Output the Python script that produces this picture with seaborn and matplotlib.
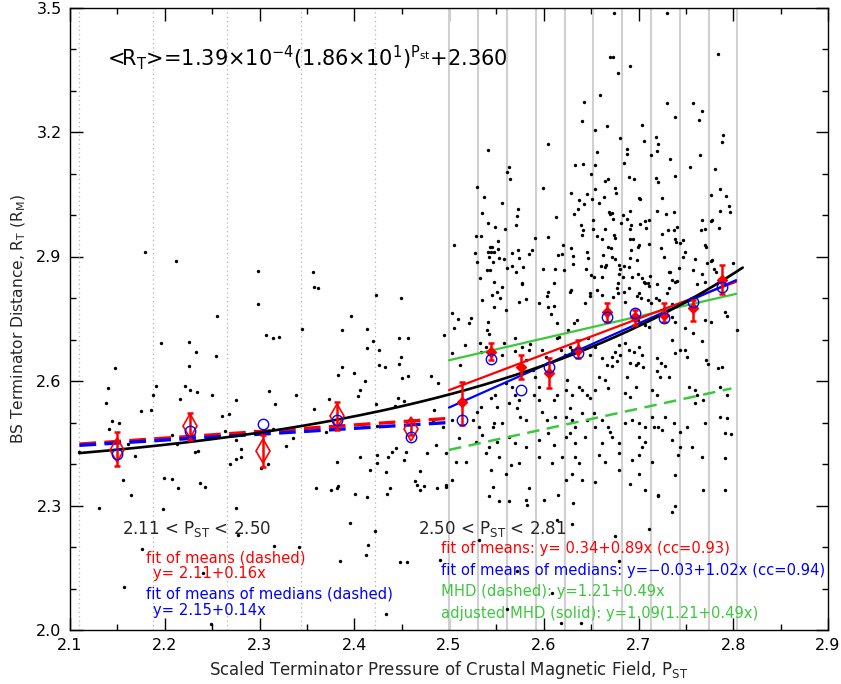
import numpy as np
import pandas as pd
import matplotlib
matplotlib.use("Agg")
import matplotlib.pyplot as plt
import seaborn as sns
from matplotlib.ticker import MultipleLocator, FormatStrFormatter

# ---------------- data ----------------
left_dots = [
    (2.212,2.888),(2.179,2.912),(2.298,2.865),(2.356,2.862),(2.358,2.827),(2.362,2.824),(2.423,2.807),
    (2.449,2.799),(2.298,2.785),(2.255,2.757),(2.397,2.757),(2.345,2.726),(2.387,2.724),(2.413,2.725),
    (2.447,2.703),(2.457,2.703),(2.307,2.712),(2.314,2.704),(2.321,2.706),(2.196,2.692),(2.226,2.693),
    (2.233,2.671),(2.420,2.696),(2.413,2.680),(2.426,2.674),(2.254,2.660),(2.449,2.658),(2.226,2.636),
    (2.426,2.638),(2.432,2.633),(2.447,2.640),(2.387,2.633),(2.383,2.615),(2.400,2.619),(2.450,2.608),
    (2.457,2.611),(2.481,2.611),(2.148,2.632),(2.140,2.584),(2.191,2.588),(2.221,2.588),(2.227,2.578),
    (2.234,2.573),(2.250,2.566),(2.188,2.566),(2.216,2.556),(2.275,2.554),(2.310,2.577),(2.316,2.545),
    (2.339,2.567),(2.406,2.578),(2.404,2.565),(2.411,2.601),(2.373,2.557),(2.423,2.545),(2.446,2.558),
    (2.452,2.553),(2.443,2.540),(2.488,2.596),(2.484,2.530),(2.138,2.546),(2.175,2.528),(2.186,2.529),
    (2.260,2.516),(2.268,2.521),(2.357,2.533),(2.144,2.504),(2.152,2.500),(2.141,2.484),(2.264,2.480),
    (2.295,2.479),(2.314,2.485),(2.483,2.504),(2.494,2.488),(2.424,2.491),(2.370,2.476),(2.208,2.469),
    (2.213,2.449),(2.161,2.449),(2.275,2.457),(2.335,2.463),(2.328,2.443),(2.280,2.436),(2.232,2.430),
    (2.235,2.431),(2.486,2.445),(2.477,2.426),(2.497,2.427),(2.169,2.419),(2.110,2.430),(2.280,2.416),
    (2.275,2.411),(2.269,2.400),(2.309,2.401),(2.302,2.391),(2.382,2.404),(2.406,2.418),(2.424,2.422),
    (2.424,2.402),(2.436,2.417),(2.440,2.430),(2.444,2.438),(2.452,2.409),(2.455,2.428),(2.417,2.386),
    (2.433,2.380),(2.469,2.382),(2.464,2.358),(2.466,2.350),(2.469,2.338),(2.474,2.348),(2.487,2.341),
    (2.497,2.344),(2.156,2.361),(2.164,2.325),(2.199,2.367),(2.208,2.364),(2.214,2.341),(2.237,2.354),
    (2.242,2.344),(2.360,2.341),(2.375,2.337),(2.382,2.342),(2.383,2.347),(2.401,2.327),(2.413,2.321),
    (2.435,2.328),(2.438,2.341),(2.131,2.293),(2.198,2.292),(2.275,2.295),(2.395,2.259),(2.422,2.239),
    (2.277,2.228),(2.415,2.205),(2.412,2.181),(2.176,2.194),(2.315,2.203),(2.342,2.201),(2.385,2.167),
    (2.448,2.163),(2.456,2.163),(2.490,2.169),(2.157,2.104),(2.240,2.137),(2.434,2.038),(2.249,2.014),
]

right_dots_top = [
    (2.674,3.487),(2.730,3.487),(2.670,3.381),(2.673,3.380),(2.691,3.360),(2.678,3.341),(2.784,3.387),
    (2.659,3.289),(2.643,3.273),(2.730,3.269),(2.758,3.271),(2.767,3.251),(2.738,3.237),(2.764,3.230),
    (2.640,3.226),(2.654,3.206),(2.667,3.214),(2.704,3.218),(2.681,3.186),(2.706,3.178),(2.718,3.188),
    (2.721,3.172),(2.789,3.192),(2.788,3.177),(2.605,3.170),
    (2.541,3.156),(2.688,3.159),(2.688,3.147),(2.713,3.144),(2.720,3.154),(2.656,3.151),(2.765,3.145),
    (2.733,3.134),(2.685,3.126),(2.633,3.120),(2.641,3.124),(2.654,3.120),(2.563,3.115),(2.561,3.104),
    (2.564,3.086),(2.754,3.115),(2.781,3.110),(2.650,3.100),(2.690,3.091),(2.695,3.086),(2.738,3.095),
    (2.665,3.083),(2.668,3.086),(2.718,3.088),(2.721,3.080),(2.530,3.067),(2.537,3.043),(2.535,3.005),
    (2.541,2.980),(2.599,3.066),(2.675,3.064),(2.676,3.053),(2.629,3.053),(2.646,3.050),(2.654,3.063),
    (2.786,3.063),(2.700,3.042),(2.702,3.039),(2.725,3.042),(2.777,3.047),(2.792,3.045),(2.637,3.037),
    (2.642,3.027),(2.651,3.038),(2.658,3.029),(2.664,3.043),(2.556,3.029),(2.796,3.022),(2.797,3.008),
    (2.786,3.010),(2.573,3.014),(2.572,2.997),(2.571,2.976),(2.636,3.014),(2.632,3.003),(2.669,3.007),
    (2.672,3.005),(2.670,3.002),(2.673,2.991),(2.684,3.001),(2.691,3.010),(2.688,2.991),(2.719,3.009),
    (2.729,3.002),(2.737,3.008),(2.613,2.994),(2.707,2.985),(2.711,2.988),(2.702,2.978),(2.682,2.980),
    (2.692,2.975),(2.691,2.967),(2.652,2.988),(2.639,2.976),(2.641,2.964),(2.640,2.951),(2.549,2.970),
    (2.559,2.967),(2.665,2.966),(2.708,2.969),(2.731,2.965),(2.737,2.964),(2.741,2.972),(2.767,2.989),
    (2.776,2.985),(2.778,2.987),(2.766,2.965),(2.770,2.966),(2.785,2.969),(2.674,2.953),(2.675,2.945),
    (2.656,2.949),(2.652,2.966),(2.725,2.954),(2.591,2.945),(2.605,2.946),(2.529,2.949),(2.534,2.949),
    (2.505,2.927),(2.662,2.942),(2.691,2.941),(2.694,2.941),(2.739,2.941),(2.740,2.936),(2.747,2.940),
    (2.744,2.933),(2.770,2.928),(2.771,2.924),(2.711,2.929),(2.552,2.937),(2.552,2.918),(2.543,2.923),
    (2.545,2.923),(2.541,2.912),(2.544,2.911),(2.547,2.912),(2.527,2.908),(2.530,2.887),(2.542,2.898),
    (2.546,2.886),(2.553,2.896),(2.558,2.895),(2.566,2.908),(2.573,2.915),(2.574,2.897),(2.567,2.878),
    (2.571,2.862),(2.578,2.875),(2.584,2.905),(2.588,2.916),(2.615,2.904),(2.619,2.905),(2.620,2.928),
    (2.629,2.920),(2.631,2.902),(2.631,2.883),(2.646,2.910),(2.647,2.896),(2.645,2.871),(2.668,2.923),
    (2.671,2.920),(2.663,2.903),(2.672,2.898),(2.675,2.893),(2.692,2.916),(2.691,2.896),(2.698,2.892),
    (2.699,2.924),(2.700,2.927),(2.724,2.920),(2.727,2.899),(2.749,2.912),(2.747,2.900),(2.760,2.895),
    (2.777,2.888),(2.778,2.891),(2.540,2.867),(2.543,2.867),(2.533,2.848),(2.547,2.839),(2.561,2.872),
    (2.577,2.835),(2.599,2.871),(2.612,2.869),(2.611,2.835),(2.621,2.867),(2.660,2.877),(2.665,2.875),
    (2.666,2.880),(2.653,2.851),(2.650,2.856),(2.661,2.850),(2.679,2.879),(2.680,2.871),(2.685,2.876),
    (2.690,2.875),(2.679,2.859),(2.684,2.851),(2.678,2.835),(2.693,2.851),(2.699,2.857),(2.704,2.849),
    (2.706,2.838),(2.710,2.835),(2.712,2.852),(2.732,2.862),(2.733,2.862),(2.735,2.843),(2.741,2.842),
    (2.743,2.873),(2.758,2.867),(2.767,2.857),(2.772,2.884),(2.770,2.838),(2.780,2.869),(2.782,2.862),
    (2.800,2.884),(2.762,2.834),(2.719,2.834),
]

right_dots_mid = [
    (2.535,2.795),(2.551,2.815),(2.554,2.799),(2.545,2.807),(2.556,2.826),(2.577,2.834),(2.574,2.790),
    (2.581,2.798),(2.560,2.770),(2.547,2.779),(2.595,2.787),(2.603,2.806),(2.604,2.814),(2.605,2.779),
    (2.611,2.781),(2.608,2.761),(2.614,2.739),(2.628,2.815),(2.629,2.819),(2.632,2.740),(2.635,2.747),
    (2.644,2.789),(2.649,2.811),(2.649,2.805),(2.656,2.819),(2.661,2.807),(2.677,2.823),(2.678,2.811),
    (2.673,2.802),(2.685,2.815),(2.686,2.791),(2.690,2.823),(2.698,2.805),(2.700,2.811),(2.703,2.799),
    (2.707,2.835),(2.711,2.829),(2.710,2.795),(2.713,2.789),(2.718,2.799),(2.722,2.794),(2.730,2.811),
    (2.732,2.823),(2.739,2.839),(2.735,2.786),(2.699,2.747),(2.702,2.739),(2.707,2.735),(2.711,2.731),
    (2.735,2.755),(2.739,2.743),(2.749,2.727),(2.758,2.715),(2.767,2.696),(2.770,2.747),(2.776,2.741),
    (2.791,2.767),(2.793,2.757),(2.804,2.724),(2.503,2.765),(2.510,2.749),(2.523,2.751),(2.521,2.739),
    (2.505,2.727),(2.495,2.711),(2.541,2.743),(2.542,2.713),(2.540,2.724),(2.517,2.687),(2.503,2.667),
    (2.512,2.639),(2.533,2.691),(2.539,2.683),(2.534,2.671),(2.558,2.691),(2.556,2.663),(2.570,2.703),
    (2.570,2.673),(2.577,2.683),(2.586,2.689),(2.584,2.675),(2.581,2.651),(2.589,2.627),(2.598,2.675),
    (2.602,2.659),(2.614,2.703),(2.616,2.707),(2.626,2.723),(2.618,2.675),(2.622,2.663),(2.628,2.683),
    (2.630,2.675),(2.647,2.703),(2.654,2.683),(2.649,2.663),(2.661,2.655),(2.672,2.659),(2.667,2.639),
    (2.672,2.636),(2.677,2.647),(2.675,2.671),(2.679,2.687),(2.686,2.691),(2.681,2.663),(2.690,2.675),
    (2.695,2.671),(2.700,2.683),(2.704,2.663),(2.691,2.643),(2.697,2.639),(2.699,2.643),(2.705,2.633),
    (2.719,2.655),(2.724,2.643),(2.728,2.635),(2.732,2.610),(2.735,2.699),(2.739,2.667),(2.744,2.675),
    (2.749,2.675),(2.751,2.659),(2.771,2.651),(2.773,2.641),(2.784,2.631),(2.788,2.633),(2.786,2.586),
    (2.793,2.566),(2.753,2.586),(2.760,2.578),(2.762,2.566),(2.768,2.554),(2.760,2.546),(2.719,2.623),
    (2.723,2.610),(2.714,2.578),(2.719,2.566),(2.688,2.610),(2.697,2.586),(2.686,2.570),(2.691,2.562),
    (2.658,2.610),(2.665,2.602),(2.654,2.578),(2.668,2.582),(2.637,2.586),(2.640,2.578),(2.646,2.566),
    (2.649,2.558),(2.623,2.578),(2.625,2.602),(2.630,2.566),(2.628,2.534),(2.591,2.610),(2.595,2.586),
    (2.590,2.566),(2.595,2.554),(2.614,2.566),(2.611,2.554),(2.560,2.594),(2.567,2.586),(2.570,2.566),
    (2.574,2.554),(2.563,2.546),(2.549,2.566),(2.544,2.558),(2.551,2.538),(2.534,2.538),(2.530,2.526),
]

right_dots_low = [
    (2.503,2.506),(2.525,2.506),(2.532,2.490),(2.535,2.470),(2.546,2.490),(2.547,2.498),(2.556,2.498),
    (2.572,2.534),(2.575,2.514),(2.581,2.506),(2.598,2.526),(2.603,2.506),(2.612,2.514),(2.623,2.514),
    (2.630,2.506),(2.633,2.490),(2.640,2.522),(2.646,2.506),(2.653,2.522),(2.661,2.506),(2.668,2.490),
    (2.670,2.478),(2.672,2.466),(2.679,2.450),(2.686,2.498),(2.693,2.506),(2.700,2.498),(2.707,2.490),
    (2.714,2.514),(2.721,2.490),(2.716,2.490),(2.725,2.482),(2.728,2.514),(2.737,2.498),(2.744,2.478),
    (2.751,2.490),(2.770,2.498),(2.786,2.514),(2.793,2.510),(2.791,2.474),(2.798,2.472),(2.511,2.462),
    (2.528,2.454),(2.542,2.442),(2.551,2.454),(2.563,2.466),(2.570,2.450),(2.581,2.442),(2.595,2.458),
    (2.605,2.474),(2.611,2.446),(2.623,2.466),(2.628,2.474),(2.633,2.450),(2.644,2.466),(2.654,2.490),
    (2.661,2.450),(2.700,2.466),(2.707,2.454),(2.704,2.442),(2.735,2.458),(2.744,2.442),(2.756,2.442),
    (2.767,2.418),(2.791,2.414),(2.742,2.422),(2.507,2.406),(2.518,2.406),(2.539,2.426),(2.553,2.418),
    (2.565,2.398),(2.574,2.402),(2.595,2.418),(2.609,2.402),(2.619,2.418),(2.633,2.418),(2.637,2.402),
    (2.658,2.422),(2.665,2.406),(2.679,2.426),(2.693,2.410),(2.700,2.422),(2.714,2.406),(2.497,2.349),
    (2.503,2.361),(2.544,2.385),(2.560,2.377),(2.546,2.345),(2.584,2.341),(2.623,2.361),(2.630,2.377),
    (2.640,2.361),(2.654,2.357),(2.679,2.385),(2.691,2.353),(2.700,2.377),(2.707,2.337),(2.721,2.325),
    (2.739,2.373),(2.768,2.337),(2.791,2.337),
    (2.542,2.323),(2.553,2.311),(2.563,2.311),(2.581,2.314),(2.582,2.301),(2.600,2.314),(2.615,2.325),
    (2.631,2.306),(2.721,2.323),(2.739,2.300),(2.735,2.284),(2.614,2.265),(2.630,2.255),(2.711,2.243),
    (2.675,2.226),(2.532,2.217),(2.679,2.166),(2.572,2.141),(2.609,2.088),(2.561,2.051),(2.618,2.018),
    (2.639,2.018),
]

# bin edges
left_edges = [2.11, 2.188, 2.266, 2.344, 2.422]
right_edges = [2.50, 2.5305, 2.561, 2.5915, 2.622, 2.6525, 2.683, 2.7135, 2.744, 2.7745, 2.804]

# binned statistics, low-pressure range
left_bin_x = [2.1495, 2.2263, 2.3042, 2.3821, 2.4600]
left_mean = [2.434, 2.491, 2.432, 2.515, 2.484]
left_lo = [2.395, 2.458, 2.393, 2.482, 2.469]
left_hi = [2.476, 2.523, 2.471, 2.550, 2.506]
left_median = [2.423, 2.480, 2.496, 2.506, 2.466]

# binned statistics, high-pressure range
right_bin_x = [2.5137, 2.5442, 2.5758, 2.6053, 2.6358, 2.6663, 2.6968, 2.7274, 2.7579, 2.7884]
right_mean = [2.549, 2.670, 2.634, 2.619, 2.675, 2.766, 2.754, 2.759, 2.776, 2.843]
right_lo = [2.494, 2.651, 2.605, 2.583, 2.655, 2.742, 2.735, 2.742, 2.745, 2.810]
right_hi = [2.598, 2.692, 2.663, 2.655, 2.699, 2.788, 2.771, 2.788, 2.795, 2.880]
right_median = [2.506, 2.653, 2.578, 2.634, 2.667, 2.754, 2.764, 2.752, 2.790, 2.827]

# exponential fit <R_T> = a * b**P + c
exp_fit = [1.39e-4, 18.6, 2.360]
exp_range = [2.11, 2.81]

# line fits: endpoints (x0, x1) and (y0, y1)
left_fit_x = [2.11, 2.50]
left_red_y = [2.448, 2.510]
left_blue_y = [2.445, 2.500]
right_fit_x = [2.50, 2.803]
right_red_y = [2.578, 2.839]
right_blue_y = [2.536, 2.843]
right_green_y = [2.650, 2.810]
right_green_dash_x = [2.50, 2.798]
right_green_dash_y = [2.434, 2.582]

x_ticks = [2.1, 2.2, 2.3, 2.4, 2.5, 2.6, 2.7, 2.8, 2.9]
y_ticks = [2.0, 2.3, 2.6, 2.9, 3.2, 3.5]

# ---------------- plot ----------------
sns.set_style("ticks")
plt.rcParams['font.family'] = ['DejaVu Sans']
plt.rcParams['mathtext.fontset'] = 'dejavusans'

RED = '#ff0000'
BLUE = '#0000ff'
GREEN = '#3cc83c'

fig = plt.figure(figsize=(8.41, 6.84), dpi=100)
ax = fig.add_axes([70/841, (684-630)/684, 758/841, 622.5/684])

for e in left_edges:
    ax.axvline(e, color='#b5b5b5', lw=0.9, ls=(0, (1, 2.5)), zorder=1)
for e in right_edges:
    ax.axvline(e, color='#d0d0d0', lw=1.5, zorder=1)

all_dots = left_dots + right_dots_top + right_dots_mid + right_dots_low
df = pd.DataFrame(all_dots, columns=['P', 'R'])
sns.scatterplot(data=df, x='P', y='R', color='black', s=6, linewidth=0,
                ax=ax, legend=False, zorder=3)

# exponential fit curve
P = np.linspace(exp_range[0], exp_range[1], 300)
R = exp_fit[0] * exp_fit[1] ** P + exp_fit[2]
sns.lineplot(x=P, y=R, color='black', lw=1.9, ax=ax, zorder=6, sort=False)

# left dashed fits
ax.plot(left_fit_x, left_red_y, color=RED, lw=2.4, ls=(0, (5, 2.5)), zorder=5)
ax.plot(left_fit_x, left_blue_y, color=BLUE, lw=2.4, ls=(0, (5, 2.5)), zorder=5)

# right fits
ax.plot(right_fit_x, right_green_y, color=GREEN, lw=1.6, zorder=5)
ax.plot(right_green_dash_x, right_green_dash_y, color=GREEN, lw=1.8, ls=(0, (5, 3)), zorder=5)
ax.plot(right_fit_x, right_red_y, color=RED, lw=1.6, zorder=5)
ax.plot(right_fit_x, right_blue_y, color=BLUE, lw=1.6, zorder=5)

# left binned markers
lm = np.array(left_mean)
ax.errorbar(left_bin_x, lm, yerr=[lm - np.array(left_lo), np.array(left_hi) - lm],
            fmt='none', ecolor=RED, elinewidth=1.8, capsize=2.2, capthick=1.8, zorder=7)
ax.plot(left_bin_x, left_mean, ls='none', marker='d', ms=12, mfc='none', mec=RED, mew=1.2, zorder=8)
ax.plot(left_bin_x, left_median, ls='none', marker='o', ms=7.5, mfc='none', mec=BLUE, mew=1.0, zorder=8)

# right binned markers
rm = np.array(right_mean)
ax.errorbar(right_bin_x, rm, yerr=[rm - np.array(right_lo), np.array(right_hi) - rm],
            fmt='none', ecolor=RED, elinewidth=1.8, capsize=2.2, capthick=1.8, zorder=7)
ax.plot(right_bin_x, right_mean, ls='none', marker='D', ms=5, mfc=RED, mec=RED, zorder=8)
ax.plot(right_bin_x, right_median, ls='none', marker='o', ms=7.5, mfc='none', mec=BLUE, mew=1.0, zorder=8)

# axes
ax.set_xlim(2.1, 2.9)
ax.set_ylim(2.0, 3.5)
ax.set_xticks(x_ticks)
ax.set_yticks(y_ticks)
ax.xaxis.set_major_formatter(FormatStrFormatter('%.1f'))
ax.yaxis.set_major_formatter(FormatStrFormatter('%.1f'))
ax.xaxis.set_minor_locator(MultipleLocator(0.05))
ax.yaxis.set_minor_locator(MultipleLocator(0.1))
ax.tick_params(which='both', direction='in', top=True, right=True, width=1, colors='black',
               labelsize=11.5)
ax.tick_params(which='major', length=9, pad=6)
ax.tick_params(which='minor', length=4.5)
for s in ax.spines.values():
    s.set_color('black')
    s.set_linewidth(1.0)

ax.set_xlabel(r'Scaled Terminator Pressure of Crustal Magnetic Field, P$_\mathregular{ST}$',
              fontsize=12, labelpad=4)
ax.set_ylabel(r'BS Terminator Distance, R$_\mathregular{T}$ (R$_\mathregular{M}$)',
              fontsize=11.2, labelpad=6)

# texts
ax.text(2.139, 3.361,
        r'<R$_\mathregular{T}$>=1.39×10$^\mathregular{-4}$(1.86×10$^\mathregular{1}$)$^{\mathregular{P_{st}}}$+2.360',
        fontsize=15, ha='left', va='baseline', color='black', zorder=10)

ax.text(2.155, 2.231, r'2.11 < P$_\mathregular{ST}$ < 2.50', fontsize=12, ha='left', va='baseline', zorder=10)
ax.text(2.467, 2.231, r'2.50 < P$_\mathregular{ST}$ < 2.81', fontsize=12, ha='left', va='baseline', zorder=10)

TS = 10.6
ax.text(2.180, 2.163, 'fit of means (dashed)', color=RED, fontsize=TS, va='baseline', zorder=10)
ax.text(2.1874, 2.126, 'y= 2.11+0.16x', color=RED, fontsize=TS, va='baseline', zorder=10)
ax.text(2.180, 2.075, 'fit of means of medians (dashed)', color=BLUE, fontsize=TS, va='baseline', zorder=10)
ax.text(2.1874, 2.036, 'y= 2.15+0.14x', color=BLUE, fontsize=TS, va='baseline', zorder=10)

ax.text(2.4912, 2.185, 'fit of means: y= 0.34+0.89x (cc=0.93)', color=RED, fontsize=TS, va='baseline', zorder=10)
ax.text(2.4912, 2.133, 'fit of means of medians: y=\u22120.03+1.02x (cc=0.94)', color=BLUE, fontsize=TS,
        va='baseline', zorder=10)
ax.text(2.4912, 2.082, 'MHD (dashed): y=1.21+0.49x', color=GREEN, fontsize=TS, va='baseline', zorder=10)
ax.text(2.4912, 2.030, 'adjusted MHD (solid): y=1.09(1.21+0.49x)', color=GREEN, fontsize=TS,
        va='baseline', zorder=10)

fig.savefig('out.png', dpi=100)
